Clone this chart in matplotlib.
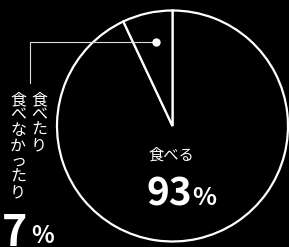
import matplotlib
matplotlib.use("Agg")
import matplotlib.pyplot as plt

plt.rcParams['font.family'] = ['Noto Sans CJK JP', 'DejaVu Sans']

# data
shares = [93, 7]
main_label = "食べる"
main_value = "93"
side_label_cols = ["食べたり", "食べなかったり"]
side_value = "7"

W, H = 289, 247
fig = plt.figure(figsize=(W / 100, H / 100), dpi=100, facecolor='black')
ax = fig.add_axes([0, 0, 1, 1])
ax.set_facecolor('black')

cx, cy, r = 172.5, H - 126, 115.5
ax.pie(shares, startangle=90, counterclock=False, center=(cx, cy), radius=r,
       colors=['black', 'black'],
       wedgeprops=dict(edgecolor='white', linewidth=1.6))
ax.set_xlim(0, W)
ax.set_ylim(0, H)
ax.set_aspect('auto')
ax.axis('off')

# leader line from the small slice
ax.plot([156, 30, 30], [H - 42, H - 42, H - 83], color='#dddddd', lw=0.8,
        solid_joinstyle='miter')
ax.plot(156, H - 42, 'o', color='white', ms=6, mec='none')

# vertical labels (first column on the right)
col_x = [39, 18]
for x, col in zip(col_x, side_label_cols):
    for i, ch in enumerate(col):
        ax.text(x, H - (99.5 + i * 15.5), ch, color='white', fontsize=11.5,
                ha='center', va='center')

ax.text(27, H - 245.5, side_value, color='white', fontsize=31, fontweight='bold',
        ha='right', va='baseline')
ax.text(31, H - 243, "%", color='white', fontsize=17, fontweight='bold',
        ha='left', va='baseline')

ax.text(171, H - 155, main_label, color='white', fontsize=11,
        ha='center', va='center')
ax.text(192, H - 205, main_value, color='white', fontsize=28, fontweight='bold',
        ha='right', va='baseline')
ax.text(192, H - 205, "%", color='white', fontsize=18, fontweight='bold',
        ha='left', va='baseline')

fig.savefig("out.png", dpi=100, facecolor='black')
